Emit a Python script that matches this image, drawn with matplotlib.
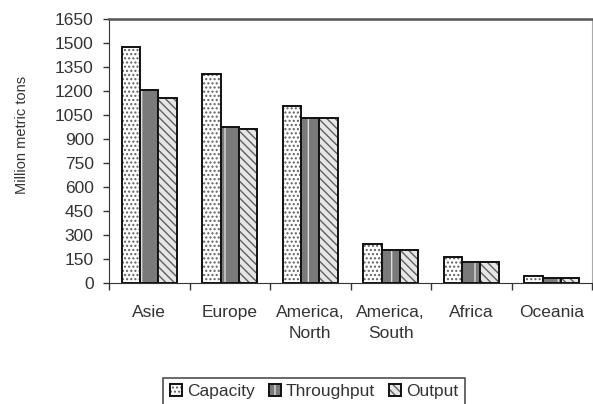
import matplotlib
matplotlib.use("Agg")
import matplotlib.pyplot as plt
from matplotlib.legend_handler import HandlerTuple
import numpy as np

plt.rcParams['font.family'] = ['Liberation Sans', 'DejaVu Sans']
plt.rcParams['hatch.linewidth'] = 1.0

# data
regions = ["Asie", "Europe", "America,\nNorth", "America,\nSouth", "Africa", "Oceania"]
capacity = [1477, 1306, 1108, 246, 160, 46]
throughput = [1206, 973, 1033, 204, 134, 34]
output = [1158, 962, 1033, 204, 134, 34]
series_names = ["Capacity", "Throughput", "Output"]
yticks = list(range(0, 1651, 150))

fig = plt.figure(figsize=(5.93, 4.04), dpi=100)
ax = fig.add_axes([109 / 593, 1 - 283 / 404, 483 / 593, 264 / 404])

x = np.arange(len(regions))
w = 0.227

# face / hatch colour / hatch pattern for each series
styles = [
    ("white", "#606060", "...."),
    ("#7a7a7a", "#dddddd", "|"),
    ("#e6e6e6", "#606060", "\\\\\\\\"),
]

handles = []
for i, (vals, (fc, hc, hatch)) in enumerate(zip([capacity, throughput, output], styles)):
    pos = x + (i - 1) * w
    filled = ax.bar(pos, vals, w, color=fc, edgecolor=hc, hatch=hatch, linewidth=0)
    outline = ax.bar(pos, vals, w, fill=False, edgecolor="#111111", linewidth=1.4)
    handles.append((filled[0], outline[0]))

ax.set_xlim(-0.5, len(regions) - 0.5)
ax.set_ylim(0, 1650)
ax.set_yticks(yticks)
ax.tick_params(axis="y", labelsize=12.5, length=4, width=1, pad=7, colors="#333333")
ax.set_xticks(x)
ax.set_xticklabels(regions, linespacing=1.45)
ax.set_xticks(np.arange(-0.5, len(regions)), minor=True)
ax.tick_params(axis="x", which="major", length=0, labelsize=12.5, pad=16, colors="#333333")
ax.tick_params(axis="x", which="minor", length=5, width=1, color="#333333")

ax.spines["left"].set_color("#333333")
ax.spines["bottom"].set_color("#333333")
ax.spines["top"].set_color("#555555")
ax.spines["top"].set_linewidth(1.8)
ax.spines["right"].set_color("#aaaaaa")

fig.text(22 / 593, 1 - 135 / 404, "Million metric tons", rotation=90,
         ha="center", va="center", fontsize=10.5, color="#333333")

leg = fig.legend(handles, series_names, handler_map={tuple: HandlerTuple(ndivide=1)},
                 loc="upper center", bbox_to_anchor=(314 / 593, 1 - 378 / 404),
                 ncol=3, fontsize=12.5, frameon=True, fancybox=False,
                 handlelength=0.7, handleheight=0.7, handletextpad=0.3,
                 columnspacing=0.8, borderpad=0.35, borderaxespad=0)
leg.get_frame().set_edgecolor("#222222")
leg.get_frame().set_linewidth(1.2)
for t in leg.get_texts():
    t.set_color("#333333")

fig.savefig("out.png", dpi=100)
